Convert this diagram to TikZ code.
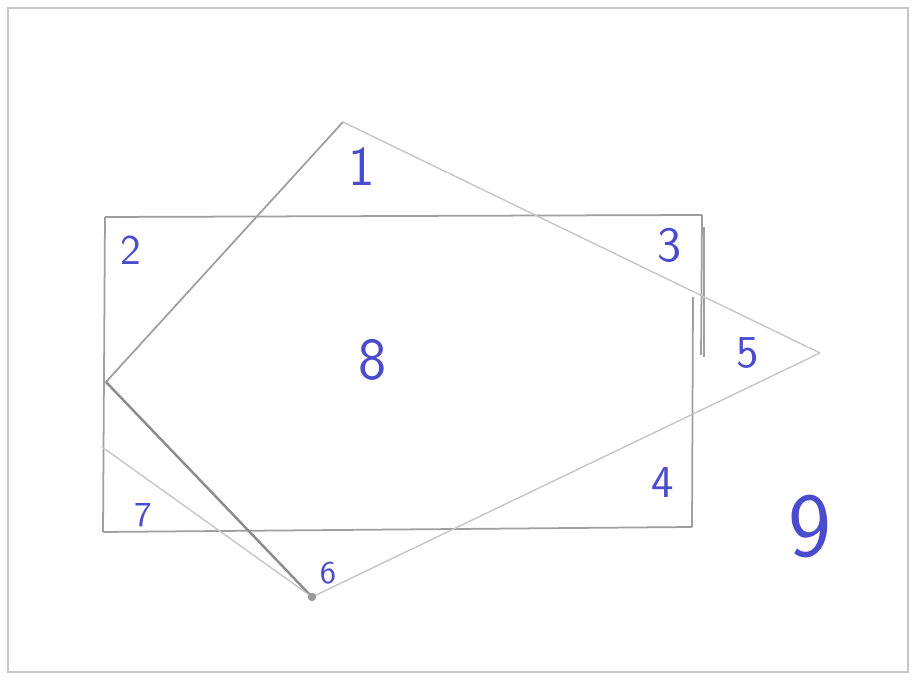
\documentclass[tikz,border=0pt]{standalone}
\usepackage{tikz}

\begin{document}
\begin{tikzpicture}[
    pencil/.style={draw=gray!75, line width=0.5pt},
    faint/.style={draw=gray!45, line width=0.4pt},
    lbl/.style={text=ink, font=\sffamily, inner sep=0pt}]
  \definecolor{ink}{RGB}{75,75,205}
  \useasboundingbox (0,0) rectangle (9.13,6.82);

%frame
  \coordinate (frA) at (0.08, 6.74);
  \coordinate (frB) at (9.08, 6.74);
  \coordinate (frC) at (9.08, 0.10);
  \coordinate (frD) at (0.08, 0.10);
  \draw[faint] (frA) -- (frB) -- (frC) -- (frD) -- cycle;

%rectangle
  \coordinate (recA) at (1.05, 4.65);
  \coordinate (recB) at (7.02, 4.67);
  \coordinate (recC) at (7.01, 3.27);
  \coordinate (recD) at (7.04, 4.55);
  \coordinate (recE) at (7.04, 3.25);
  \coordinate (recF) at (6.93, 3.85);
  \coordinate (recG) at (6.92, 1.55);
  \coordinate (recH) at (1.03, 1.50);
  \draw[pencil] (recA) -- (recB);
  \draw[pencil] (recB) -- (recC);
  \draw[pencil] (recD) -- (recE);
  \draw[pencil] (recF) -- (recG);
  \draw[pencil] (recG) -- (recH);
  \draw[pencil] (recH) -- (recA);

%quadrilateral
  \coordinate (qA) at (3.43, 5.60);
  \coordinate (qB) at (8.20, 3.29);
  \coordinate (qC) at (3.12, 0.85);
  \coordinate (qD) at (1.06, 3.00);
  \coordinate (qE) at (1.02, 2.35);
  \draw[pencil] (qD) -- (qA);
  \draw[faint] (qA) -- (qB);
  \draw[faint] (qB) -- (qC);
  \draw[pencil, draw=gray!90, line width=0.7pt] (qC) -- (qD);
  \draw[faint] (qE) -- (qC);
  \fill[gray!80] (qC) circle (1.2pt);

%labels
  \node[lbl, font=\sffamily\fontsize{16}{16}\selectfont] (n1) at (3.62, 5.15) {1};
  \node[lbl, font=\sffamily\fontsize{12}{12}\selectfont] (n2) at (1.31, 4.32) {2};
  \node[lbl, font=\sffamily\fontsize{14}{14}\selectfont] (n3) at (6.70, 4.37) {3};
  \node[lbl, font=\sffamily\fontsize{13}{13}\selectfont] (n4) at (6.63, 1.99) {4};
  \node[lbl, font=\sffamily\fontsize{13}{13}\selectfont] (n5) at (7.48, 3.29) {5};
  \node[lbl, font=\sffamily\fontsize{9}{9}\selectfont] (n6) at (3.28, 1.09) {6};
  \node[lbl, font=\sffamily\fontsize{10}{10}\selectfont] (n7) at (1.43, 1.67) {7};
  \node[lbl, font=\sffamily\fontsize{17}{17}\selectfont] (n8) at (3.73, 3.22) {8};
  \node[lbl, font=\sffamily\fontsize{26}{26}\selectfont] (n9) at (8.10, 1.55) {9};

\end{tikzpicture}
\end{document}
